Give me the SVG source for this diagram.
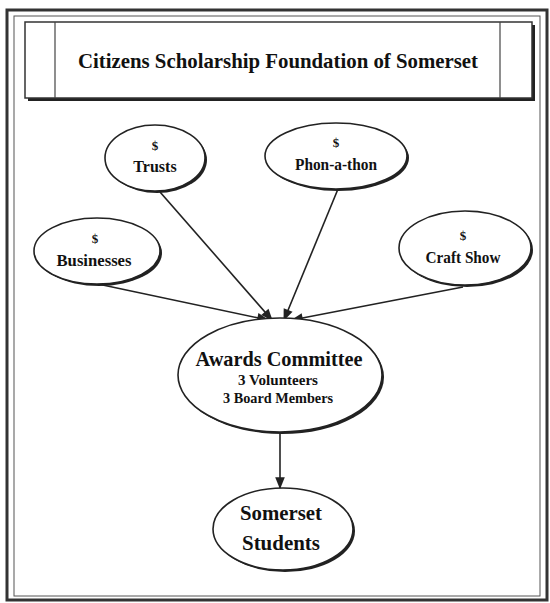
<svg xmlns="http://www.w3.org/2000/svg" width="550" height="603" viewBox="0 0 550 603">
<style>
.t{font-family:"Liberation Serif","Times New Roman",serif;font-weight:bold;fill:#111;text-anchor:middle}
.e{fill:#fff;stroke:#222;stroke-width:1.6}
.s{fill:#222}
.c{stroke:#222;stroke-width:1.6;fill:none}
</style>
<defs>
<marker id="ah2" viewBox="0 0 10 10" refX="9" refY="5" markerWidth="14" markerHeight="12" markerUnits="userSpaceOnUse" orient="auto">
<path d="M0,1 L10,5 L0,9 z" fill="#222"/>
</marker>
</defs>
<rect width="550" height="603" fill="#fff"/>
<g id="frame">
<rect x="7" y="10" width="540" height="590" fill="none" stroke="#333" stroke-width="3"/>
<rect x="14" y="16" width="526" height="580" fill="none" stroke="#555" stroke-width="1"/>
</g>
<g id="title">
<rect x="28" y="25" width="507" height="76" fill="#222"/>
<rect x="25" y="22" width="507" height="76" fill="#fff" stroke="#333" stroke-width="1.5"/>
<line x1="55" y1="22" x2="55" y2="98" stroke="#444" stroke-width="1.2"/>
<line x1="500" y1="22" x2="500" y2="98" stroke="#444" stroke-width="1.2"/>
<text class="t" x="278" y="68" font-size="22" textLength="400" lengthAdjust="spacingAndGlyphs">Citizens Scholarship Foundation of Somerset</text>
</g>
<g id="connectors">
<line class="c" x1="160" y1="192" x2="272" y2="320" marker-end="url(#ah2)"/>
<line class="c" x1="338" y1="189" x2="284" y2="320" marker-end="url(#ah2)"/>
<line class="c" x1="98" y1="284" x2="268" y2="320" marker-end="url(#ah2)"/>
<line class="c" x1="463" y1="287" x2="292" y2="320" marker-end="url(#ah2)"/>
<line class="c" x1="280" y1="433" x2="280" y2="488" marker-end="url(#ah2)"/>
</g>
<g id="trusts">
<ellipse class="s" cx="157" cy="160" rx="50" ry="33"/>
<ellipse class="e" cx="155" cy="158" rx="50" ry="33"/>
<text class="t" x="155" y="150" font-size="13">$</text>
<text class="t" x="155" y="172" font-size="16">Trusts</text>
</g>
<g id="phonathon">
<ellipse class="s" cx="338" cy="158" rx="71" ry="33"/>
<ellipse class="e" cx="336" cy="156" rx="71" ry="33"/>
<text class="t" x="336" y="147" font-size="13">$</text>
<text class="t" x="336" y="170" font-size="16" textLength="82" lengthAdjust="spacingAndGlyphs">Phon-a-thon</text>
</g>
<g id="businesses">
<ellipse class="s" cx="99" cy="253" rx="63" ry="33"/>
<ellipse class="e" cx="97" cy="251" rx="63" ry="33"/>
<text class="t" x="95" y="243" font-size="13">$</text>
<text class="t" x="94" y="266" font-size="16" textLength="75" lengthAdjust="spacingAndGlyphs">Businesses</text>
</g>
<g id="craftshow">
<ellipse class="s" cx="467" cy="250" rx="66" ry="37"/>
<ellipse class="e" cx="465" cy="248" rx="66" ry="37"/>
<text class="t" x="463" y="240" font-size="13">$</text>
<text class="t" x="463" y="263" font-size="16" textLength="75" lengthAdjust="spacingAndGlyphs">Craft Show</text>
</g>
<g id="awards">
<ellipse class="s" cx="282" cy="377" rx="102" ry="57"/>
<ellipse class="e" cx="280" cy="375" rx="102" ry="57"/>
<text class="t" x="279" y="366" font-size="21" textLength="167" lengthAdjust="spacingAndGlyphs">Awards Committee</text>
<text class="t" x="278" y="385" font-size="14" textLength="80" lengthAdjust="spacingAndGlyphs">3 Volunteers</text>
<text class="t" x="278" y="403" font-size="14" textLength="110" lengthAdjust="spacingAndGlyphs">3 Board Members</text>
</g>
<g id="students">
<ellipse class="s" cx="285" cy="531" rx="70" ry="41"/>
<ellipse class="e" cx="283" cy="529" rx="70" ry="41"/>
<text class="t" x="281" y="520" font-size="21" textLength="82" lengthAdjust="spacingAndGlyphs">Somerset</text>
<text class="t" x="281" y="550" font-size="21" textLength="78" lengthAdjust="spacingAndGlyphs">Students</text>
</g>
</svg>
